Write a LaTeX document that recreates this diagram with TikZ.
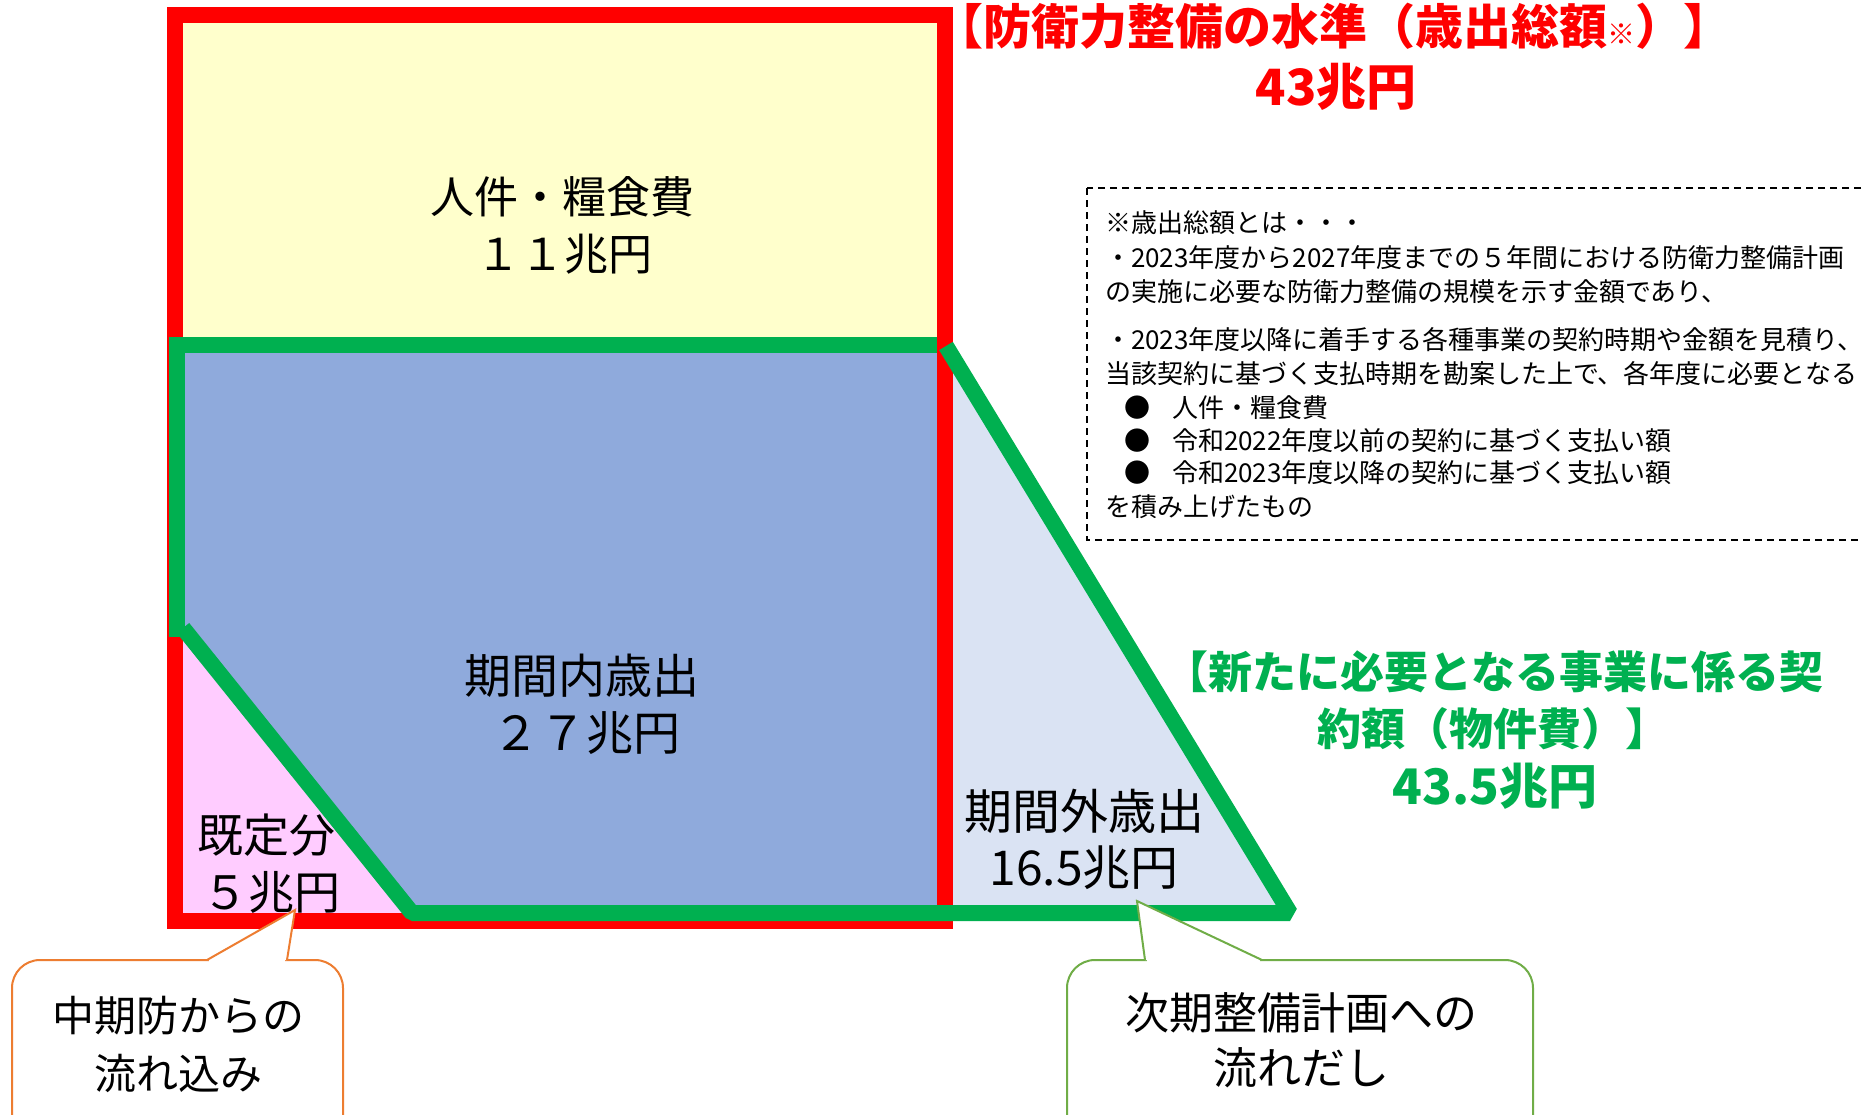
\documentclass[tikz,border=0pt]{standalone}
\usepackage{fontspec}
\setmainfont{Noto Sans CJK JP}
\newfontfamily\jp{Noto Sans CJK JP}
\newcommand\jfs[1]{\fontsize{#1}{#1}\selectfont}
\definecolor{cYellow}{HTML}{FFFFCC}
\definecolor{cBlue}{HTML}{8FAADC}
\definecolor{cPink}{HTML}{FFCCFF}
\definecolor{cLBlue}{HTML}{DAE3F3}
\definecolor{cGreen}{HTML}{00B050}
\definecolor{cOrange}{HTML}{ED7D31}
\definecolor{cCallG}{HTML}{70AD47}
\definecolor{cRed}{HTML}{FF0000}
\begin{document}
\begin{tikzpicture}[x=1pt,y=-1pt,
  lbl/.style={anchor=base,inner sep=0pt,outer sep=0pt,text=black},
  notel/.style={anchor=base west,inner sep=0pt,outer sep=0pt,font=\jp\jfs{26}},
  redline/.style={draw=cRed,line width=16pt},
  greenline/.style={draw=cGreen,line width=16pt},
  calloutO/.style={draw=cOrange,line width=2pt},
  calloutG/.style={draw=cCallG,line width=2pt}]
\useasboundingbox (0,0) rectangle (1863,1114);
\clip (0,0) rectangle (1863,1114);
% fills
\fill[cYellow] (175,15) rectangle (945,345);
\fill[cBlue] (177,345) -- (945,345) -- (945,913) -- (412,913) -- (183,628) -- (177,628) -- cycle;
\fill[cPink] (175,620) -- (183,628) -- (412,913) -- (412,921) -- (175,921) -- cycle;
\fill[cLBlue] (945,346) -- (1290,913) -- (945,913) -- cycle;
% red frame
\draw[redline] (175,15) rectangle (945,921);
% green outline
\draw[greenline] (937,345) -- (177,345) -- (177,637);
\draw[greenline,line join=bevel] (183,628) -- (412,913) -- (1290,913) -- (946,346);
% note box
\draw[black,line width=1.5pt,dash pattern=on 7pt off 5pt] (1087,188) rectangle (1890,540);
% callouts
\draw[calloutO,fill=white,rounded corners=28pt] (12,960) rectangle (343,1170);
\fill[white] (207,960) -- (295,910) -- (287,960) -- cycle;
\fill[white] (209,957) rectangle (285,963);
\draw[calloutO] (207,960) -- (295,910) -- (287,960);
\draw[calloutG,fill=white,rounded corners=28pt] (1067,960) rectangle (1533,1170);
\fill[white] (1145,960) -- (1137,901) -- (1262,960) -- cycle;
\fill[white] (1147,957) rectangle (1260,963);
\draw[calloutG] (1145,960) -- (1137,901) -- (1262,960);
% labels
\node[lbl,font=\jp\jfs{44}] (a1) at (562,213) {人件・糧食費};
\node[lbl,font=\jp\jfs{44}] (a2) at (564,270) {１１兆円};
\node[lbl,font=\jp\jfs{47}] (b1) at (582,693) {期間内歳出};
\node[lbl,font=\jp\jfs{47}] (b2) at (586,750) {２７兆円};
\node[lbl,font=\jp\jfs{46}] (c1) at (266,852) {既定分};
\node[lbl,font=\jp\jfs{46}] (c2) at (271,909) {５兆円};
\node[lbl,font=\jp\jfs{48}] (d1) at (1084,829) {期間外歳出};
\node[lbl,font=\jp\jfs{48}] (d2) at (1084,885) {16.5兆円};
\node[lbl,font=\jp\bfseries\jfs{48},text=cRed] (t1) at (1333,44) {【防衛力整備の水準（歳出総額{\jfs{28}※}）】};
\node[lbl,font=\jp\bfseries\jfs{50},text=cRed] (t2) at (1336,105) {43兆円};
\node[lbl,font=\jp\bfseries\jfs{44},text=cGreen] (g1) at (1494,688) {【新たに必要となる事業に係る契};
\node[lbl,font=\jp\bfseries\jfs{44},text=cGreen] (g2) at (1493,745) {約額（物件費）】};
\node[lbl,font=\jp\bfseries\jfs{49},text=cGreen] (g3) at (1495,804) {43.5兆円};
\node[lbl,font=\jp\jfs{42}] (o1) at (178,1031) {中期防からの};
\node[lbl,font=\jp\jfs{42}] (o2) at (178,1089) {流れ込み};
\node[lbl,font=\jp\jfs{44}] (n1) at (1301,1029) {次期整備計画への};
\node[lbl,font=\jp\jfs{44}] (n2) at (1301,1084) {流れだし};
% note text
\node[notel] (m1) at (1105,232) {※歳出総額とは・・・};
\node[notel] (m2) at (1105,267) {・2023年度から2027年度までの５年間における防衛力整備計画};
\node[notel] (m3) at (1105,301) {の実施に必要な防衛力整備の規模を示す金額であり、};
\node[notel] (m4) at (1105,349) {・2023年度以降に着手する各種事業の契約時期や金額を見積り、};
\node[notel] (m5) at (1105,383) {当該契約に基づく支払時期を勘案した上で、各年度に必要となる};
\node[notel,anchor=base] (k1) at (1137,417) {●};
\node[notel] (m6) at (1172,417) {人件・糧食費};
\node[notel,anchor=base] (k2) at (1137,450) {●};
\node[notel] (m7) at (1172,450) {令和2022年度以前の契約に基づく支払い額};
\node[notel,anchor=base] (k3) at (1137,482) {●};
\node[notel] (m8) at (1172,482) {令和2023年度以降の契約に基づく支払い額};
\node[notel] (m9) at (1105,516) {を積み上げたもの};
\end{tikzpicture}
\end{document}
